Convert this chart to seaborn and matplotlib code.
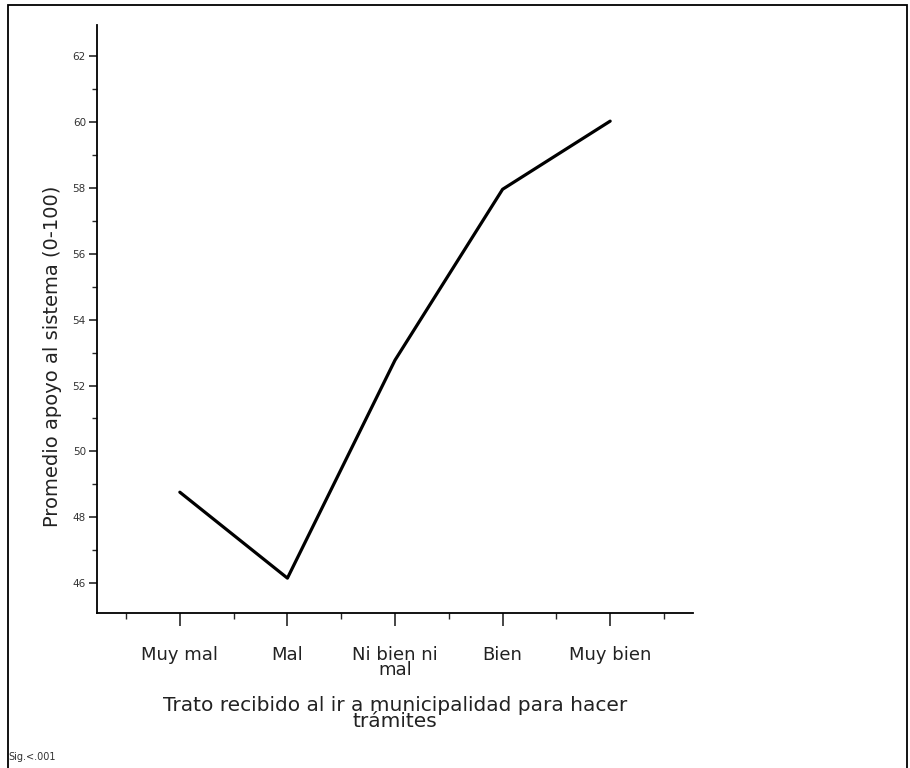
import pandas as pd
import matplotlib
matplotlib.use("Agg")
import matplotlib.pyplot as plt
from matplotlib.patches import Rectangle
from matplotlib.ticker import MultipleLocator
import seaborn as sns

# data
categories = ["Muy mal", "Mal", "Ni bien ni mal", "Bien", "Muy bien"]
tick_labels = ["Muy mal", "Mal", "Ni bien ni\nmal", "Bien", "Muy bien"]
promedio = [48.76, 46.15, 52.77, 57.96, 60.03]
y_ticks = [46, 48, 50, 52, 54, 56, 58, 60, 62]

df = pd.DataFrame({"trato": categories, "promedio": promedio})

sns.set_style("white")
plt.rcParams["font.family"] = ["DejaVu Sans"]

fig = plt.figure(figsize=(9.1, 7.68), dpi=100)
ax = fig.add_axes([97 / 910, 1 - 612.7 / 768, (693 - 97) / 910, (612.7 - 25) / 768])

sns.lineplot(data=df, x="trato", y="promedio", color="black", linewidth=2.3,
             sort=False, ax=ax)

ax.set_xlim(-0.77, 4.77)
ax.set_ylim(45.1, 62.95)

ax.set_xticks(range(len(categories)))
ax.set_xticklabels(tick_labels, fontsize=13, color="#222222", linespacing=0.8)
ax.xaxis.set_minor_locator(MultipleLocator(0.5))
ax.set_yticks(y_ticks)
ax.set_yticklabels([str(v) for v in y_ticks], fontsize=7.5, color="#333333")
ax.yaxis.set_minor_locator(MultipleLocator(1))

ax.tick_params(axis="x", which="major", direction="out", length=9, width=1.2,
               pad=15, bottom=True)
ax.tick_params(axis="x", which="minor", direction="out", length=4, width=1.0,
               bottom=True)
ax.tick_params(axis="y", which="major", direction="out", length=6, width=1.2,
               pad=2, left=True)
ax.tick_params(axis="y", which="minor", direction="out", length=3.5, width=1.0,
               left=True)

for side in ["top", "right"]:
    ax.spines[side].set_visible(False)
for side in ["left", "bottom"]:
    ax.spines[side].set_linewidth(1.3)
    ax.spines[side].set_color("black")

ax.set_xlabel("Trato recibido al ir a municipalidad para hacer\ntrámites",
              fontsize=14.5, color="#222222", labelpad=12, linespacing=0.82)
ax.set_ylabel("Promedio apoyo al sistema (0-100)", fontsize=14, color="#222222")
ax.yaxis.set_label_coords(-0.058, 0.437)

# outer frame and footnote
fig.patches.append(Rectangle((8 / 910, -0.02), (907 - 8) / 910, 1.02 - 5 / 768,
                             transform=fig.transFigure, fill=False,
                             edgecolor="black", linewidth=1.3))
fig.text(8 / 910, 1 - 757 / 768, "Sig.<.001", fontsize=7, color="#333333",
         ha="left", va="center")

fig.savefig("out.png", dpi=100)
